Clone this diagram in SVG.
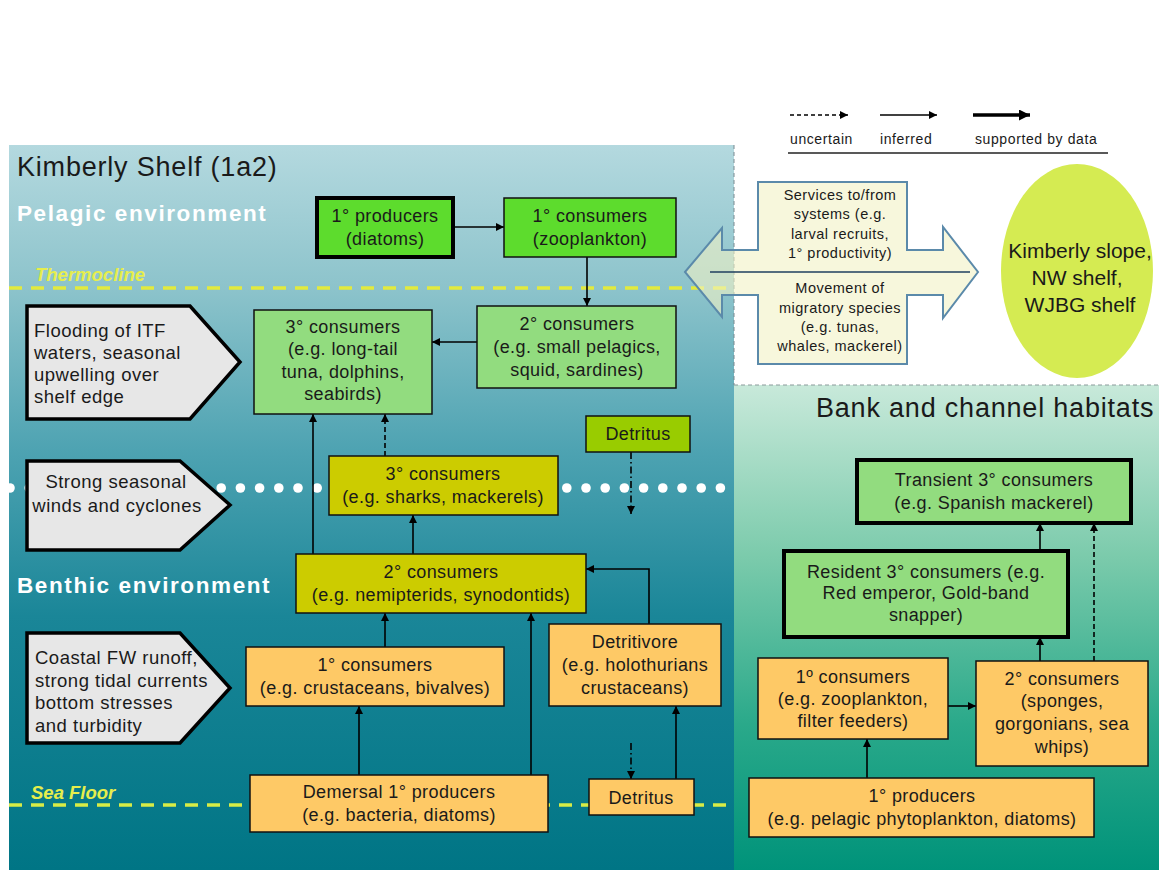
<svg xmlns="http://www.w3.org/2000/svg" width="1159" height="870" viewBox="0 0 1159 870">
<defs>
<linearGradient id="gLeft" x1="0" y1="145" x2="0" y2="870" gradientUnits="userSpaceOnUse">
<stop offset="0" stop-color="#b4d9df"/>
<stop offset="0.2" stop-color="#8cc3cb"/>
<stop offset="0.42" stop-color="#4ea3b2"/>
<stop offset="0.65" stop-color="#1a8698"/>
<stop offset="1" stop-color="#007585"/>
</linearGradient>
<linearGradient id="gRight" x1="0" y1="385" x2="0" y2="870" gradientUnits="userSpaceOnUse">
<stop offset="0" stop-color="#c8e9da"/>
<stop offset="0.35" stop-color="#7ccbac"/>
<stop offset="0.7" stop-color="#2aa98a"/>
<stop offset="1" stop-color="#00937a"/>
</linearGradient>
<marker id="ah" viewBox="0 0 10 10" refX="10" refY="5" markerWidth="9" markerHeight="8" markerUnits="userSpaceOnUse" orient="auto">
<path d="M0,0 L10,5 L0,10 z" fill="#000"/>
</marker>
<marker id="ahL" viewBox="0 0 10 10" refX="10" refY="5" markerWidth="13" markerHeight="11" markerUnits="userSpaceOnUse" orient="auto">
<path d="M0,0 L10,5 L0,10 z" fill="#000"/>
</marker>
</defs>
<style>
text{font-family:"Liberation Sans",Arial,sans-serif;fill:#1a1a1a;}
.bt{font-size:18px;letter-spacing:0.4px;text-anchor:middle;}
.pt{font-size:18.5px;letter-spacing:0.5px;}
.at{font-size:14.5px;letter-spacing:0.5px;text-anchor:middle;}
.lg{font-size:14px;letter-spacing:0.6px;}
.env{font-size:22.5px;font-weight:bold;fill:#fff;letter-spacing:1.6px;}
.lvl{font-size:18.5px;font-weight:bold;font-style:italic;fill:#e6ee4c;}
.box{stroke:#111;stroke-width:1.5;}
.thick{stroke:#000;stroke-width:4;}
.g1{fill:#5ddc2d;}
.g2{fill:#92dc7f;}
.yo{fill:#cccc00;}
.yg{fill:#99cc00;}
.or{fill:#fec966;}
.pent{fill:#e7e7e7;stroke:#000;stroke-width:3.5;stroke-linejoin:miter;}
.c{fill:none;stroke:#000;stroke-width:1.6;marker-end:url(#ah);}
.d{stroke-dasharray:5,3;}
.dd{stroke-dasharray:7,3,1.5,3;}
</style>
<rect x="0" y="0" width="1159" height="870" fill="#fff"/>
<g id="background">
<rect x="9" y="145" width="725" height="725" fill="url(#gLeft)"/>
<rect x="734" y="385" width="425" height="485" fill="url(#gRight)"/>
<line x1="734" y1="145" x2="734" y2="385" stroke="#7a8a90" stroke-width="1" stroke-dasharray="4,3"/>
<line x1="734" y1="385" x2="1159" y2="385" stroke="#8a9a9a" stroke-width="1" stroke-dasharray="4,3"/>
<line x1="9" y1="288" x2="734" y2="288" stroke="#e2ea3e" stroke-width="3.5" stroke-dasharray="13,9"/>
<line x1="9" y1="805" x2="734" y2="805" stroke="#d8ec46" stroke-width="3.5" stroke-dasharray="13,9"/>
<g fill="#fff">
<circle cx="10" cy="488" r="4.8"/><circle cx="29.2" cy="488" r="4.8"/><circle cx="48.4" cy="488" r="4.8"/><circle cx="67.6" cy="488" r="4.8"/><circle cx="86.8" cy="488" r="4.8"/><circle cx="106" cy="488" r="4.8"/><circle cx="125.2" cy="488" r="4.8"/><circle cx="144.4" cy="488" r="4.8"/><circle cx="163.6" cy="488" r="4.8"/><circle cx="182.8" cy="488" r="4.8"/><circle cx="202" cy="488" r="4.8"/><circle cx="221.2" cy="488" r="4.8"/><circle cx="240.4" cy="488" r="4.8"/><circle cx="259.6" cy="488" r="4.8"/><circle cx="278.8" cy="488" r="4.8"/><circle cx="298" cy="488" r="4.8"/><circle cx="317.2" cy="488" r="4.8"/><circle cx="336.4" cy="488" r="4.8"/><circle cx="355.6" cy="488" r="4.8"/><circle cx="374.8" cy="488" r="4.8"/><circle cx="394" cy="488" r="4.8"/><circle cx="413.2" cy="488" r="4.8"/><circle cx="432.4" cy="488" r="4.8"/><circle cx="451.6" cy="488" r="4.8"/><circle cx="470.8" cy="488" r="4.8"/><circle cx="490" cy="488" r="4.8"/><circle cx="509.2" cy="488" r="4.8"/><circle cx="528.4" cy="488" r="4.8"/><circle cx="547.6" cy="488" r="4.8"/><circle cx="566.8" cy="488" r="4.8"/><circle cx="586" cy="488" r="4.8"/><circle cx="605.2" cy="488" r="4.8"/><circle cx="624.4" cy="488" r="4.8"/><circle cx="643.6" cy="488" r="4.8"/><circle cx="662.8" cy="488" r="4.8"/><circle cx="682" cy="488" r="4.8"/><circle cx="701.2" cy="488" r="4.8"/><circle cx="720.4" cy="488" r="4.8"/>
</g>
</g>
<g id="labels">
<text x="17" y="176" style="font-size:27px;letter-spacing:0.8px">Kimberly Shelf (1a2)</text>
<text x="17" y="221" class="env">Pelagic environment</text>
<text x="35" y="281" class="lvl">Thermocline</text>
<text x="17" y="593" class="env">Benthic environment</text>
<text x="31" y="799" class="lvl">Sea Floor</text>
<text x="816" y="417" style="font-size:27px;letter-spacing:0.8px">Bank and channel habitats</text>
</g>
<g id="legend">
<line x1="790" y1="115" x2="848" y2="115" stroke="#000" stroke-width="1.3" stroke-dasharray="4,3" marker-end="url(#ah)"/>
<line x1="880" y1="115" x2="937" y2="115" stroke="#000" stroke-width="1.6" marker-end="url(#ah)"/>
<line x1="973" y1="115" x2="1030" y2="115" stroke="#000" stroke-width="3.5" marker-end="url(#ahL)"/>
<text x="790" y="144" class="lg">uncertain</text>
<text x="880" y="144" class="lg">inferred</text>
<text x="975" y="144" class="lg">supported by data</text>
<line x1="788" y1="153" x2="1108" y2="153" stroke="#222" stroke-width="1.3"/>
</g>
<g id="exchange">
<polygon points="685,272 722,228 722,250 758,250 758,182 907,182 907,250 943,250 943,227 978,272 943,318 943,295 907,295 907,364 758,364 758,295 722,295 722,317" fill="#f2f2c4" fill-opacity="0.6" stroke="#5b8aaa" stroke-width="2"/>
<line x1="710" y1="272" x2="970" y2="272" stroke="#1f3f5f" stroke-width="1.5"/>
<text class="at"><tspan x="840" y="200">Services to/from</tspan><tspan x="840" y="219">systems (e.g.</tspan><tspan x="840" y="239">larval recruits,</tspan><tspan x="840" y="258">1° productivity)</tspan></text>
<text class="at"><tspan x="840" y="293">Movement of</tspan><tspan x="840" y="313">migratory species</tspan><tspan x="840" y="332">(e.g. tunas,</tspan><tspan x="840" y="351">whales, mackerel)</tspan></text>
</g>
<g id="external">
<ellipse cx="1077" cy="271" rx="76" ry="107" fill="#d5eb52"/>
<text style="font-size:21px;text-anchor:middle"><tspan x="1080" y="258">Kimberly slope,</tspan><tspan x="1077" y="285">NW shelf,</tspan><tspan x="1080" y="312">WJBG shelf</tspan></text>
</g>
<g id="drivers">
<g id="driver-flooding">
<polygon class="pent" points="27,306 190,306 240,362 190,419 27,419"/>
<text class="pt"><tspan x="34" y="337">Flooding of ITF</tspan><tspan x="34" y="359">waters, seasonal</tspan><tspan x="34" y="381">upwelling over</tspan><tspan x="34" y="403">shelf edge</tspan></text>
</g>
<g id="driver-winds">
<polygon class="pent" points="27,461 180,461 230,505 180,550 27,550"/>
<text class="pt" text-anchor="middle"><tspan x="116" y="488">Strong seasonal</tspan><tspan x="117" y="512">winds and cyclones</tspan></text>
</g>
<g id="driver-coastal">
<polygon class="pent" points="27,633 180,633 230,688 180,743 27,743"/>
<text class="pt"><tspan x="35" y="664">Coastal FW runoff,</tspan><tspan x="35" y="687">strong tidal currents</tspan><tspan x="35" y="709">bottom stresses</tspan><tspan x="35" y="732">and turbidity</tspan></text>
</g>
</g>
<g id="connectors">
<line class="c" x1="453" y1="227" x2="504" y2="227"/>
<line class="c" x1="587" y1="257" x2="587" y2="306"/>
<line class="c" x1="477" y1="342" x2="432" y2="342"/>
<line class="c" x1="313" y1="554" x2="313" y2="414"/>
<line class="c d" x1="385" y1="456" x2="385" y2="414"/>
<line class="c" x1="413" y1="554" x2="413" y2="515"/>
<line class="c dd" x1="631" y1="452" x2="631" y2="514"/>
<path class="c" d="M649,624 V569 H586"/>
<line class="c" x1="385" y1="647" x2="385" y2="613"/>
<line class="c" x1="359" y1="775" x2="359" y2="706"/>
<line class="c" x1="531" y1="775" x2="531" y2="613"/>
<line class="c dd" x1="631" y1="743" x2="631" y2="779"/>
<line class="c" x1="676" y1="779" x2="676" y2="706"/>
<line class="c" x1="1040" y1="551" x2="1040" y2="523"/>
<line class="c d" x1="1094" y1="661" x2="1094" y2="523"/>
<line class="c" x1="1040" y1="661" x2="1040" y2="637"/>
<line class="c" x1="948" y1="706" x2="976" y2="706"/>
<line class="c" x1="867" y1="778" x2="867" y2="739"/>
</g>
<g id="pel-producers">
<rect x="317" y="198" width="136" height="59" class="g1 thick"/>
<text class="bt"><tspan x="385" y="222">1° producers</tspan><tspan x="385" y="245">(diatoms)</tspan></text>
</g>
<g id="pel-consumers1">
<rect x="504" y="198" width="172" height="59" class="g1 box"/>
<text class="bt"><tspan x="590" y="222">1° consumers</tspan><tspan x="590" y="245">(zooplankton)</tspan></text>
</g>
<g id="pel-consumers2">
<rect x="477" y="306" width="199" height="82" class="g2 box"/>
<text class="bt"><tspan x="577" y="330">2° consumers</tspan><tspan x="577" y="353">(e.g. small pelagics,</tspan><tspan x="577" y="376">squid, sardines)</tspan></text>
</g>
<g id="pel-consumers3">
<rect x="254" y="310" width="178" height="104" class="g2 box"/>
<text class="bt"><tspan x="343" y="333">3° consumers</tspan><tspan x="343" y="355">(e.g. long-tail</tspan><tspan x="343" y="378">tuna, dolphins,</tspan><tspan x="343" y="400">seabirds)</tspan></text>
</g>
<g id="detritus-top">
<rect x="586" y="416" width="104" height="36" class="yg box"/>
<text class="bt" x="638" y="440">Detritus</text>
</g>
<g id="ben-consumers3">
<rect x="329" y="456" width="229" height="59" class="yo box"/>
<text class="bt"><tspan x="443" y="480">3° consumers</tspan><tspan x="443" y="503">(e.g. sharks, mackerels)</tspan></text>
</g>
<g id="ben-consumers2">
<rect x="296" y="554" width="290" height="59" class="yo box"/>
<text class="bt"><tspan x="441" y="578">2° consumers</tspan><tspan x="441" y="601">(e.g. nemipterids, synodontids)</tspan></text>
</g>
<g id="ben-consumers1">
<rect x="246" y="647" width="258" height="59" class="or box"/>
<text class="bt"><tspan x="375" y="671">1° consumers</tspan><tspan x="375" y="694">(e.g. crustaceans, bivalves)</tspan></text>
</g>
<g id="detritivore">
<rect x="549" y="624" width="172" height="82" class="or box"/>
<text class="bt"><tspan x="635" y="648">Detritivore</tspan><tspan x="635" y="671">(e.g. holothurians</tspan><tspan x="635" y="694">crustaceans)</tspan></text>
</g>
<g id="demersal-producers">
<rect x="250" y="775" width="298" height="57" class="or box"/>
<text class="bt"><tspan x="399" y="798">Demersal 1° producers</tspan><tspan x="399" y="821">(e.g. bacteria, diatoms)</tspan></text>
</g>
<g id="detritus-bottom">
<rect x="589" y="779" width="105" height="36" class="or box"/>
<text class="bt" x="641" y="804">Detritus</text>
</g>
<g id="bank-transient">
<rect x="857" y="460" width="274" height="63" class="g2 thick"/>
<text class="bt"><tspan x="994" y="486">Transient 3° consumers</tspan><tspan x="994" y="509">(e.g. Spanish mackerel)</tspan></text>
</g>
<g id="bank-resident">
<rect x="784" y="551" width="284" height="86" class="g2 thick"/>
<text class="bt"><tspan x="926" y="578">Resident 3° consumers (e.g.</tspan><tspan x="926" y="599">Red emperor, Gold-band</tspan><tspan x="926" y="621">snapper)</tspan></text>
</g>
<g id="bank-consumers1">
<rect x="758" y="658" width="190" height="81" class="or box"/>
<text class="bt"><tspan x="853" y="683">1º consumers</tspan><tspan x="853" y="705">(e.g. zooplankton,</tspan><tspan x="853" y="727">filter feeders)</tspan></text>
</g>
<g id="bank-consumers2">
<rect x="976" y="661" width="172" height="105" class="or box"/>
<text class="bt"><tspan x="1062" y="685">2° consumers</tspan><tspan x="1062" y="707">(sponges,</tspan><tspan x="1062" y="730">gorgonians, sea</tspan><tspan x="1062" y="753">whips)</tspan></text>
</g>
<g id="bank-producers">
<rect x="749" y="778" width="345" height="59" class="or box"/>
<text class="bt"><tspan x="922" y="802">1° producers</tspan><tspan x="922" y="825">(e.g. pelagic phytoplankton, diatoms)</tspan></text>
</g>
</svg>
